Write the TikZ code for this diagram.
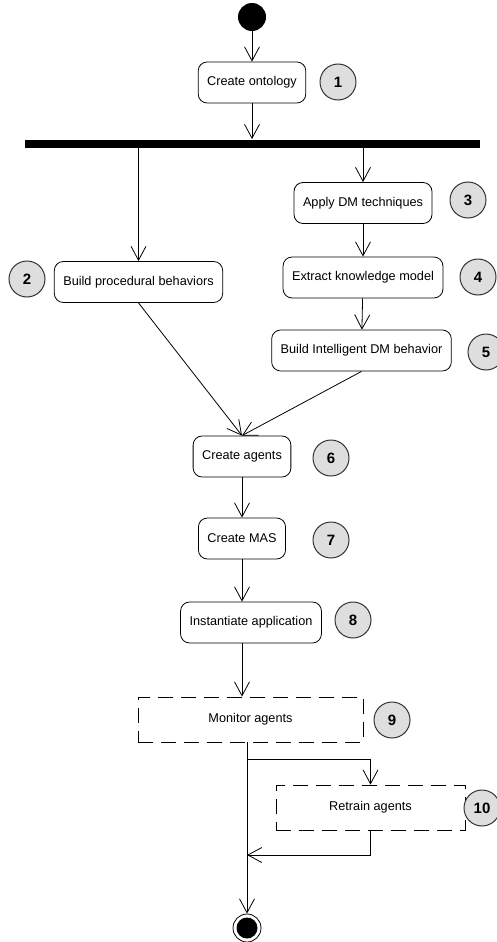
\documentclass[tikz,border=0pt]{standalone}
\usepackage{fontspec}
\setmainfont{Liberation Sans}
\usetikzlibrary{arrows.meta}
\tikzset{
  act/.style={draw, rounded corners=9pt, minimum height=41pt, inner xsep=9pt, font=\fontsize{12.7}{15}\selectfont},
  optact/.style={draw, dash pattern=on 15pt off 8pt, minimum height=45pt, font=\fontsize{12.7}{15}\selectfont},
  num/.style={circle, draw=black!80, fill=black!13, line width=1pt, minimum size=36pt, inner sep=0pt, font=\fontsize{15}{18}\selectfont\bfseries}
}

\begin{document}
\begin{tikzpicture}[x=1pt,y=-1pt,>={Straight Barb[length=14pt,width=15pt]},line width=0.8pt]
			\useasboundingbox (0,0) rectangle (497,942);
			\clip (0,0) rectangle (497,942);
			% Start and fork
			\node (start) [circle, fill, minimum size=28pt, inner sep=0pt] at (252,17) {};
			\node (ontology) [act] at (252,82.5) {Create ontology};
			\node (fork) [fill, minimum width=455pt, minimum height=8pt, inner sep=0pt] at (252.5,143.5) {};
			
			% Branches
			\node (proc) [act] at (138.5,282) {Build procedural behaviors};
			\node (apply) [act] at (363,203) {Apply DM techniques};
			\node (extract) [act] at (363,277.5) {Extract knowledge model};
			\node (intel) [act] at (361.5,350.5) {Build Intelligent DM behavior};
			
			% Main line
			\node (agents) [act] at (242,456.5) {Create agents};
			\node (mas) [act] at (242,538.5) {Create MAS};
			\node (inst) [act] at (251,622.5) {Instantiate application};
			\node (monitor) [optact, minimum width=225pt] at (250.5,719.5) {Monitor agents};
			\node (retrain) [optact, minimum width=189pt] at (370.5,807.5) {Retrain agents};
			\node (fin) [circle, draw, fill=white, minimum size=28pt, inner sep=0pt] at (247,928) {};
			\fill (fin) circle (10.5pt);
			\coordinate (split) at (247,759);
			\coordinate (join) at (247,855);
			
			% Step numbers
			\node (n1) [num] at (338,82) {1};
			\node (n2) [num] at (27,279) {2};
			\node (n3) [num] at (468,200) {3};
			\node (n4) [num] at (478,277) {4};
			\node (n5) [num] at (486,352) {5};
			\node (n6) [num] at (331,458) {6};
			\node (n7) [num] at (331,540) {7};
			\node (n8) [num] at (353,620) {8};
			\node (n9) [num] at (392,720) {9};
			\node (n10) [num] at (482,808) {10};
			
			% Flows
			\draw[->] (start) -- (ontology);
			\draw[->] (ontology) -- (ontology |- fork.north);
			\draw[->] (fork.south -| proc) -- (proc);
			\draw[->] (fork.south -| apply) -- (apply);
			\draw[->] (apply) -- (extract);
			\draw[->] (extract) -- (intel);
			\draw[->] (proc.south) -- (agents.north);
			\draw[->] (intel.south) -- (agents.north);
			\draw[->] (agents) -- (mas);
			\draw[->] (mas) -- (mas |- inst.north);
			\draw[->] (inst.south -| mas) -- (monitor.north -| mas);
			\draw[->] (monitor.south -| split) -- (fin.north);
			\draw[->] (split) -| (retrain.north);
			\draw[->] (retrain.south) |- (join);
			
		\end{tikzpicture}
\end{document}
